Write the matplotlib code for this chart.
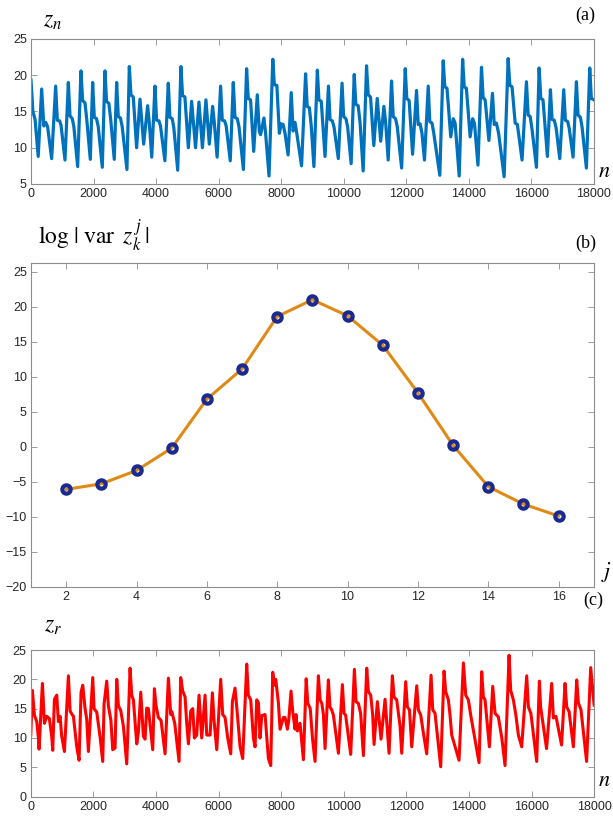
import matplotlib
matplotlib.use("Agg")
import matplotlib.pyplot as plt

plt.rcParams['font.family'] = ['Liberation Sans', 'DejaVu Sans']
plt.rcParams['mathtext.fontset'] = 'stix'

# ---- (a) original series z_n ----
n_a = [0, 60, 130, 230, 340, 410, 470, 530, 660, 788, 840, 915, 960, 1086,
       1193, 1246, 1320, 1370, 1491, 1597, 1650, 1725, 1780, 1895, 1971, 2023,
       2095, 2150, 2279, 2364, 2415, 2490, 2545, 2662, 2738, 2790, 2860, 2915,
       3067, 3143, 3195, 3270, 3376, 3484, 3601, 3729, 3780, 3860, 3963, 4015,
       4090, 4140, 4280, 4389, 4440, 4515, 4565, 4690, 4794, 4845, 4920, 5030,
       5135, 5260, 5369, 5480, 5593, 5700, 5806, 5860, 5950, 6062, 6115, 6190,
       6240, 6370, 6467, 6520, 6595, 6650, 6790, 6893, 6945, 7020, 7120, 7234,
       7300, 7340, 7447, 7500, 7610, 7730, 7780, 7860, 7940, 8000, 8060, 8120,
       8220, 8320, 8380, 8440, 8490, 8650, 8779, 8830, 8900, 8960, 9045, 9155,
       9205, 9280, 9400, 9510, 9560, 9635, 9690, 9825, 9945, 9995, 10070, 10125,
       10235, 10334, 10385, 10460, 10520, 10620, 10728, 10780, 10855, 10960,
       11069, 11180, 11282, 11340, 11420, 11527, 11580, 11655, 11710, 11850,
       11965, 12015, 12090, 12200, 12326, 12380, 12440, 12500, 12580, 12700,
       12750, 12820, 12870, 13070, 13179, 13230, 13300, 13420, 13500, 13560,
       13690, 13800, 13850, 13920, 14040, 14120, 14180, 14290, 14403, 14455,
       14520, 14640, 14754, 14810, 14880, 14950, 15127, 15255, 15310, 15380,
       15480, 15550, 15700, 15840, 15895, 15960, 16020, 16160, 16245, 16300,
       16370, 16510, 16607, 16660, 16730, 16790, 16905, 17033, 17085, 17160,
       17210, 17331, 17438, 17490, 17565, 17620, 17757, 17864, 17915, 18000]
z_a = [19.3, 15.0, 13.9, 8.8, 18.1, 13.0, 13.5, 12.9, 8.5, 18.5, 13.8, 13.7, 13.1, 8.3,
       19.0, 14.4, 14.0, 12.9, 7.4, 20.6, 16.5, 16.2, 14.0, 8.4, 19.0, 14.2,
       14.0, 12.9, 7.3, 20.6, 16.4, 16.1, 14.0, 8.4, 19.0, 14.3, 14.1, 12.9,
       7.0, 21.2, 17.3, 17.0, 10.0, 16.7, 10.5, 15.8, 13.5, 8.7, 18.5, 13.8,
       13.7, 13.0, 8.2, 18.9, 14.2, 14.0, 12.8, 6.9, 21.2, 17.2, 17.0, 10.0,
       16.4, 10.0, 16.3, 10.0, 16.6, 10.5, 15.7, 13.5, 8.7, 18.5, 13.8, 13.7,
       13.0, 8.2, 19.0, 14.2, 14.0, 12.9, 7.0, 20.9, 16.8, 16.6, 9.5, 17.3,
       12.2, 11.8, 14.1, 12.0, 6.1, 22.2, 18.7, 18.6, 12.0, 13.3, 13.2, 12.0,
       9.0, 17.6, 12.3, 13.5, 12.2, 7.5, 20.2, 15.7, 15.5, 13.0, 7.4, 20.7,
       16.6, 16.4, 8.8, 18.5, 13.9, 13.7, 12.8, 8.5, 18.9, 14.3, 14.0, 12.8,
       7.8, 20.1, 16.0, 15.8, 13.5, 6.8, 21.3, 17.3, 17.0, 10.3,
       16.8, 10.9, 15.7, 13.4, 8.3, 19.2, 14.3, 14.0, 12.9, 7.2,
       20.9, 16.8, 16.5, 9.1, 17.9, 13.2, 13.3, 12.0, 8.3, 18.5,
       13.6, 13.4, 12.2, 6.2, 22.0, 18.4, 18.2, 11.5, 14.0, 13.4,
       6.1, 22.2, 18.4, 18.2, 11.5, 14.0, 13.3, 7.6, 21.1, 16.9,
       16.6, 11.0, 17.5, 13.2, 13.4, 12.0, 6.0, 22.3, 18.6, 18.4,
       13.4, 13.2, 8.3, 19.1, 14.5, 14.3, 12.5, 7.3, 21.0, 16.8,
       16.6, 8.8, 18.0, 13.9, 13.8, 12.7, 8.5, 18.0, 13.8, 13.6,
       12.6, 8.7, 19.1, 14.5, 14.2, 12.8, 7.2, 21.0, 16.8, 16.6]

# ---- (b) log|var z_k^j| against level j ----
j_levels = [2, 3, 4, 5, 6, 7, 8, 9, 10, 11, 12, 13, 14, 15, 16]
log_var = [-6.1, -5.3, -3.4, -0.2, 6.8, 11.1, 18.6, 21.0, 18.7, 14.5, 7.7,
           0.2, -5.7, -8.2, -9.9]

# ---- (c) reconstructed series z_r ----
n_c = [0, 52, 116, 191, 244, 265, 372, 436, 510, 595, 670, 702, 755, 830, 883,
       936, 989, 1075, 1202, 1256, 1309, 1362, 1469, 1543, 1607, 1660, 1735,
       1788, 1841, 1980, 2022, 2108, 2214, 2299, 2342, 2427, 2480, 2560, 2619,
       2693, 2747, 2800, 2874, 2960, 3066, 3173, 3226, 3279, 3386, 3439, 3514,
       3598, 3652, 3705, 3758, 3865, 3897, 3950, 4003, 4078, 4163, 4291, 4397,
       4472, 4504, 4600, 4738, 4791, 4855, 4930, 4983, 5036, 5111, 5175, 5228,
       5302, 5377, 5462, 5569, 5622, 5729, 5803, 5856, 5942, 6069, 6133, 6208,
       6293, 6389, 6442, 6527, 6602, 6687, 6772, 6900, 6953, 7028, 7113, 7166,
       7220, 7273, 7326, 7379, 7486, 7592, 7667, 7731, 7784, 7827, 7912, 7965,
       8072, 8125, 8199, 8242, 8316, 8370, 8444, 8476, 8519, 8604, 8711, 8800,
       8850, 8930, 9000, 9083, 9190, 9245, 9300, 9350, 9403, 9509, 9560, 9615,
       9670, 9830, 9957, 10010, 10060, 10222, 10340, 10393, 10468, 10540, 10628,
       10734, 10787, 10862, 10925, 10968, 11075, 11192, 11320, 11394, 11448,
       11554, 11607, 11692, 11800, 11852, 11980, 12033, 12100, 12172, 12332,
       12385, 12460, 12540, 12651, 12790, 12843, 12917, 13098, 13205, 13258,
       13343, 13396, 13450, 13684, 13823, 13898, 13982, 14057, 14323, 14408,
       14461, 14515, 14653, 14760, 14834, 14940, 15050, 15154, 15282, 15335,
       15420, 15500, 15580, 15686, 15846, 15900, 15980, 16165, 16251, 16290,
       16480, 16645, 16698, 16780, 16960, 17071, 17124, 17200, 17337, 17444,
       17497, 17580, 17760, 17891, 18000]
z_c = [10.5, 18.1, 13.9, 12.8, 10.0, 8.1, 19.3, 12.5, 13.7, 13.3, 10.2, 7.9, 16.6, 17.3, 12.8,
       13.7, 10.3, 7.7, 20.6, 14.6, 14.1, 13.7, 8.5, 6.2, 17.8, 19.0, 15.0,
       13.2, 7.7, 20.3, 15.0, 14.4, 10.2, 6.0, 15.8, 19.7, 15.5, 13.0, 8.0,
       8.3, 20.0, 15.5, 14.7, 12.0, 5.6, 21.9, 17.3, 16.5, 9.0, 11.0, 17.8,
       10.3, 9.8, 15.1, 15.0, 9.5, 8.0, 18.4, 15.5, 13.5, 13.0, 7.3, 20.2,
       14.0, 14.5, 12.5, 6.0, 20.3, 18.0, 17.0, 12.5, 9.0, 14.6, 15.0, 10.0,
       10.5, 17.3, 10.0, 17.3, 10.5, 10.5, 17.7, 13.0, 8.0, 20.0, 14.0, 13.5,
       10.0, 7.3, 16.2, 18.5, 14.0, 8.5, 6.5, 22.6, 17.3, 16.5, 10.0, 8.5,
       16.5, 16.0, 10.0, 13.8, 14.0, 6.5, 5.3, 21.2, 19.0, 20.0, 16.0, 11.5,
       13.5, 13.5, 11.5, 13.0, 18.0, 14.5, 11.5, 14.0, 11.2, 12.5, 6.3, 20.1,
       16.0, 15.0, 10.0, 6.0, 20.6, 16.5, 15.9, 14.0, 8.2, 19.9, 15.3, 14.8,
       13.9, 7.4, 19.1, 14.2, 13.9, 7.2, 21.7, 16.2, 15.9, 14.2, 7.0,
       21.9, 17.9, 17.3, 13.9, 8.9, 16.2, 9.8, 16.6, 11.4, 7.4,
       20.6, 17.0, 16.5, 12.0, 7.4, 19.6, 15.3, 14.8, 8.5, 18.9,
       14.8, 13.9, 11.0, 7.3, 20.7, 14.8, 14.2, 5.1, 21.4, 17.9,
       16.5, 13.9, 10.5, 6.2, 22.8, 17.3, 16.5, 13.9, 5.8, 21.3,
       17.0, 16.5, 8.5, 18.8, 14.2, 13.6, 10.0, 5.3, 24.1, 18.1,
       16.5, 13.9, 10.5, 8.5, 20.6, 15.3, 14.2, 6.0, 19.7, 15.3,
       8.2, 19.3, 13.4, 13.7, 8.8, 19.3, 15.3, 14.5, 8.5, 19.9,
       16.0, 14.8, 6.0, 22.0, 15.6]

series_ticks = [0, 2000, 4000, 6000, 8000, 10000, 12000, 14000, 16000, 18000]

BLUE = '#0072BD'
RED = '#FF0000'
ORANGE = '#DE8A14'
NAVY = '#1B2A8F'
SPINE = '#8C8C8C'
LABEL = '#262626'

fig = plt.figure(figsize=(6.13, 8.17), dpi=100)


def style(ax):
    ax.tick_params(direction='in', top=True, right=True, length=4,
                   width=0.6, color=SPINE, labelcolor=LABEL, labelsize=9,
                   pad=3)
    for s in ax.spines.values():
        s.set_color(SPINE)
        s.set_linewidth(0.8)


# (a)
ax1 = fig.add_axes([0.0506, 0.7748, 0.9184, 0.1775])
ax1.plot(n_a, z_a, color=BLUE, lw=2.3, solid_joinstyle='round')
ax1.set_xlim(0, 18000)
ax1.set_ylim(5, 25)
ax1.set_xticks(series_ticks)
ax1.set_yticks([5, 10, 15, 20, 25])
style(ax1)
fig.text(0.070, 0.974, r'$z_n$', fontsize=17, ha='left', va='center')
fig.text(0.938, 0.981, '(a)', fontsize=13, ha='left', va='center',
         family=['Liberation Serif'])
fig.text(0.975, 0.790, r'$n$', fontsize=16, ha='left', va='center')

# (b)
ax2 = fig.add_axes([0.0506, 0.2819, 0.918, 0.3958])
ax2.plot(j_levels, log_var, color=ORANGE, lw=2.2, zorder=2)
ax2.plot(j_levels, log_var, linestyle='none', marker='o', ms=6.0,
         mfc='none', mec=NAVY, mew=3.0, zorder=3)
ax2.set_xlim(1, 17)
ax2.set_ylim(-20, 26.2)
ax2.set_xticks([2, 4, 6, 8, 10, 12, 14, 16])
ax2.set_yticks([-20, -15, -10, -5, 0, 5, 10, 15, 20, 25])
style(ax2)
fig.text(0.062, 0.712, r'$\log\,|\;\mathrm{var}\;\; z_k^{\,j}\,|$',
         fontsize=17, ha='left', va='center')
fig.text(0.938, 0.702, '(b)', fontsize=13, ha='left', va='center',
         family=['Liberation Serif'])
fig.text(0.980, 0.300, r'$j$', fontsize=16, ha='left', va='center')
fig.text(0.952, 0.265, '(c)', fontsize=13, ha='left', va='center',
         family=['Liberation Serif'])

# (c)
ax3 = fig.add_axes([0.0502, 0.0249, 0.919, 0.1795])
ax3.plot(n_c, z_c, color=RED, lw=2.2, solid_joinstyle='round')
ax3.set_xlim(0, 18000)
ax3.set_ylim(0, 25)
ax3.set_xticks(series_ticks)
ax3.set_yticks([0, 5, 10, 15, 20, 25])
style(ax3)
fig.text(0.072, 0.234, r'$z_r$', fontsize=17, ha='left', va='center')
fig.text(0.975, 0.045, r'$n$', fontsize=16, ha='left', va='center')

fig.savefig('out.png', dpi=100, facecolor='white')
